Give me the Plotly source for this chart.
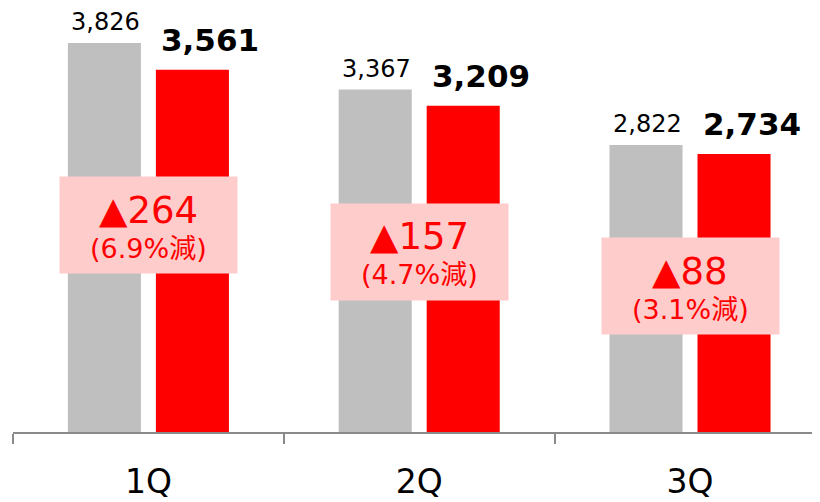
import plotly.graph_objects as go

categories = ["1Q", "2Q", "3Q"]
prev_values = [3826, 3367, 2822]
curr_values = [3561, 3209, 2734]
diff_labels = ["▲264", "▲157", "▲88"]
pct_labels = ["(6.9%減)", "(4.7%減)", "(3.1%減)"]
box_y = [2035, 1770, 1431]

FONT = "DejaVu Sans, Noto Sans CJK JP"
x_idx = list(range(len(categories)))

fig = go.Figure()
fig.add_trace(go.Bar(x=x_idx, y=prev_values, marker_color="#BFBFBF",
                     marker_line_width=0, hoverinfo="skip"))
fig.add_trace(go.Bar(x=x_idx, y=curr_values, marker_color="#FF0000",
                     marker_line_width=0, hoverinfo="skip"))

ann = []
for i in x_idx:
    ann.append(dict(x=i, y=prev_values[i], xshift=-43, yshift=5, yanchor="bottom",
                    text=f"{prev_values[i]:,}", showarrow=False,
                    font=dict(family=FONT, size=24, color="#000000")))
    ann.append(dict(x=i, y=curr_values[i], xshift=62, yshift=10, yanchor="bottom",
                    text=f"<b>{curr_values[i]:,}</b>", showarrow=False,
                    font=dict(family=FONT, size=31, color="#000000")))
    ann.append(dict(x=i, y=box_y[i], yanchor="middle", xanchor="center",
                    text=" ", showarrow=False, bgcolor="#FFCCCC",
                    width=177, height=96, borderpad=0,
                    font=dict(family=FONT, size=10)))
    ann.append(dict(x=i, y=box_y[i], yanchor="middle", xanchor="center", yshift=15,
                    text=diff_labels[i], showarrow=False,
                    font=dict(family=FONT, size=37, color="#FF0000")))
    ann.append(dict(x=i, y=box_y[i], yanchor="middle", xanchor="center", yshift=-23,
                    text=pct_labels[i], showarrow=False,
                    font=dict(family=FONT, size=27, color="#FF0000")))

fig.update_layout(
    width=812, height=494,
    margin=dict(l=5, r=0, t=0, b=70),
    barmode="group", bargap=0.35, bargroupgap=0.17,
    plot_bgcolor="white", paper_bgcolor="white",
    showlegend=False,
    annotations=ann,
    xaxis=dict(range=[-0.5, 2.48], tickmode="array", tickvals=x_idx,
               ticktext=categories, showgrid=False, zeroline=False,
               showline=True, linecolor="#8A8A8A", linewidth=2,
               ticks="", ticklabelstandoff=19,
               tickfont=dict(family=FONT, size=33, color="#000000"),
               minor=dict(tickmode="linear", tick0=-0.5, dtick=1, ticks="outside",
                          ticklen=10, tickwidth=2, tickcolor="#8A8A8A", showgrid=False),
               fixedrange=True),
    yaxis=dict(range=[0, 4169], visible=False, fixedrange=True),
)

fig.write_html("out.html")
